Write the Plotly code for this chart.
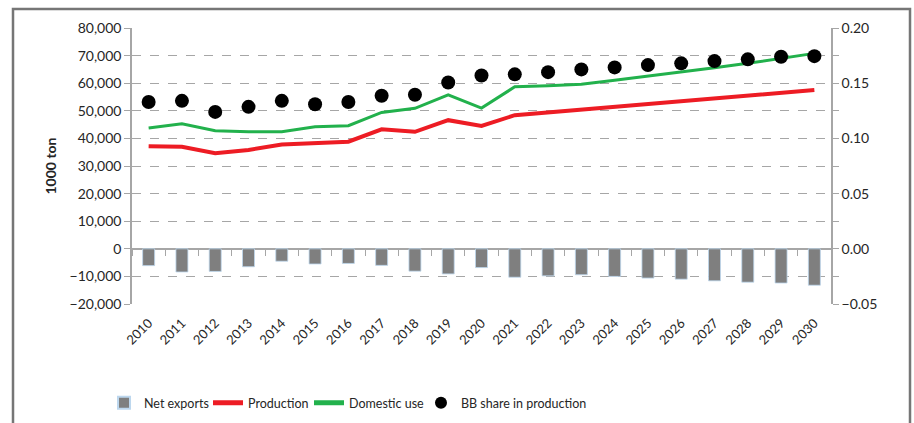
import plotly.graph_objects as go

years = [str(y) for y in range(2010, 2031)]
net_exports = [-6100, -8400, -8200, -6500, -4500, -5500, -5300, -6000, -8100, -9100, -6800,
               -10300, -9800, -9400, -10000, -10600, -11000, -11600, -12100, -12400, -13200]
production = [37200, 37000, 34600, 35800, 37800, 38400, 38800, 43300, 42400, 46600, 44500,
              48400, 49400, 50200, 51200, 52300, 53300, 54200, 55400, 56500, 57500]
domestic_use = [43800, 45300, 42800, 42400, 42400, 44200, 44600, 49400, 50900, 55800, 51000,
                58700, 59100, 59600, 61100, 62600, 63900, 65600, 67200, 69000, 70800]
bb_share = [0.133, 0.134, 0.124, 0.1286, 0.134, 0.131, 0.133, 0.1386, 0.1395, 0.1507, 0.157,
            0.158, 0.160, 0.1625, 0.1643, 0.1664, 0.168, 0.170, 0.1716, 0.174, 0.1745]
left_ticks = list(range(-20000, 80001, 10000))

FONT = "Lato"
GRID = "#a6a6a6"
TXT = "#262626"

fig = go.Figure()
fig.add_trace(go.Bar(x=years, y=net_exports, name="Net exports", xaxis="x2", yaxis="y",
                     marker=dict(color="#7f7f7f", line=dict(color="#bdd7ee", width=0.8)),
                     width=0.36, legend="legend"))
fig.add_trace(go.Scatter(x=years, y=production, name="Production", mode="lines",
                         line=dict(color="#ed1c24", width=4), legend="legend2"))
fig.add_trace(go.Scatter(x=years, y=domestic_use, name="Domestic use", mode="lines",
                         line=dict(color="#22b14c", width=3), legend="legend3"))
fig.add_trace(go.Scatter(x=years, y=bb_share, name="BB share in production", mode="markers",
                         yaxis="y2", marker=dict(color="black", size=14, symbol="circle"),
                         legend="legend4"))

pos0 = (0 - left_ticks[0]) / (left_ticks[-1] - left_ticks[0])

legend_common = dict(orientation="h", xref="container", yref="container",
                     xanchor="left", y=0.047, yanchor="middle",
                     font=dict(size=12.5, color=TXT, family=FONT), traceorder="normal",
                     itemsizing="constant", bgcolor="rgba(0,0,0,0)")

fig.update_layout(
    width=914, height=423,
    margin=dict(l=132, r=83, t=28, b=119),
    paper_bgcolor="white", plot_bgcolor="white",
    font=dict(family=FONT, size=14, color=TXT),
    showlegend=True,
    legend=dict(legend_common, x=0.1138),
    legend2=dict(legend_common, x=0.2276),
    legend3=dict(legend_common, x=0.3381),
    legend4=dict(legend_common, x=0.4606),
    xaxis=dict(type="category", categoryorder="array", categoryarray=years,
               range=[-0.5, 20.5], showgrid=False, showline=False, ticks="",
               tickangle=-45, tickfont=dict(size=13, color=TXT), ticklabelstandoff=8),
    xaxis2=dict(type="category", categoryorder="array", categoryarray=years,
                range=[-0.5, 20.5], overlaying="x", anchor="free", position=pos0,
                showgrid=False, showline=False, ticks="outside", tickson="boundaries",
                ticklen=6, tickcolor=GRID, tickwidth=1.2, showticklabels=False),
    yaxis=dict(range=[left_ticks[0], left_ticks[-1]], tickvals=left_ticks,
               tickformat=",", showgrid=True, gridcolor=GRID, griddash="dash",
               gridwidth=1.2, zeroline=True, zerolinecolor=GRID, zerolinewidth=1.6,
               showline=True, linecolor=GRID, linewidth=1.5,
               ticks="outside", ticklen=6, tickcolor=GRID,
               title=dict(text="<b>1000 ton</b>", standoff=10, font=dict(size=14, color=TXT))),
    yaxis2=dict(range=[-0.05, 0.20], dtick=0.05, tickformat=".2f", overlaying="y",
                side="right", showgrid=False, zeroline=False, showline=True,
                linecolor=GRID, linewidth=1.5, ticks="outside", ticklen=6, tickcolor=GRID,
                minor=dict(dtick=0.025, ticks="outside", ticklen=6, tickcolor=GRID)),
    barmode="overlay",
)

# outer chart frame
pw, ph = 914 - 132 - 83, 423 - 28 - 119
fig.add_shape(type="rect", xref="paper", yref="paper",
              x0=(13 - 132) / pw, x1=(910 - 132) / pw,
              y0=(304 - 440) / ph, y1=(304 - 9) / ph,
              line=dict(color="#767676", width=2.5), fillcolor="rgba(0,0,0,0)", layer="below")

fig.write_html("out.html", config={"displayModeBar": False},
               post_script="document.body.style.margin='0px';")
